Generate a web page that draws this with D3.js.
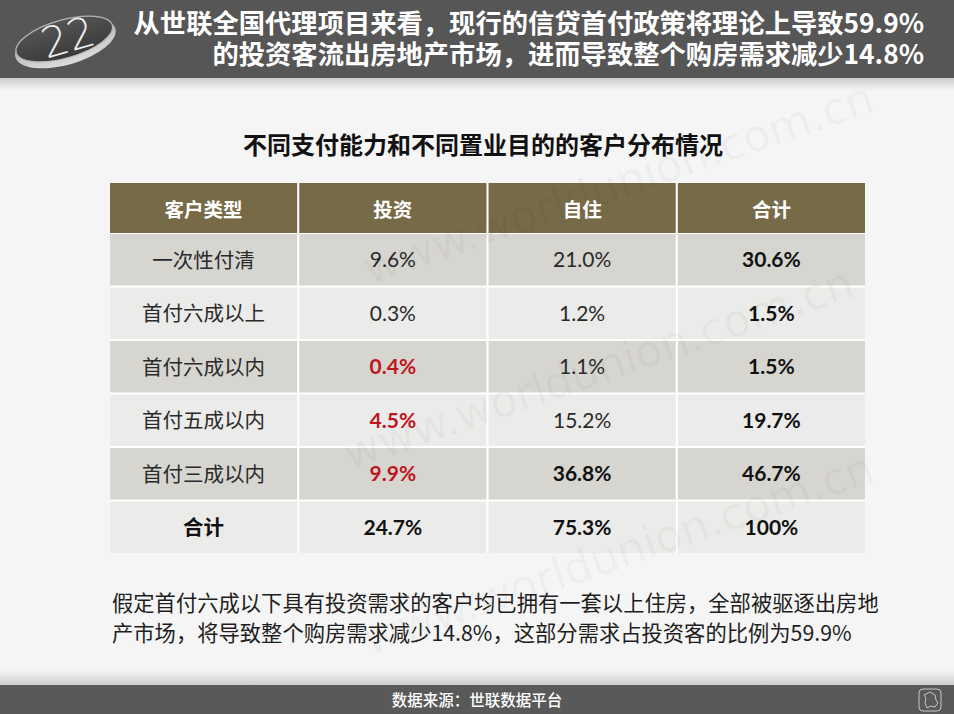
<!DOCTYPE html>
<html><head><meta charset="utf-8">
<script src="https://cdn.jsdelivr.net/npm/d3@7"></script>
<style>
html,body{margin:0;padding:0;background:#f4f4f4;}
svg{display:block;}
</style></head>
<body>
<script>
// ---- data ----
const titleLines = ["从世联全国代理项目来看，现行的信贷首付政策将理论上导致59.9%", "的投资客流出房地产市场，进而导致整个购房需求减少14.8%"];
const tableTitle = "不同支付能力和不同置业目的的客户分布情况";
const columns = ["客户类型", "投资", "自住", "合计"];
const categories = ["一次性付清", "首付六成以上", "首付六成以内", "首付五成以内", "首付三成以内", "合计"];
const investValues = [9.6, 0.3, 0.4, 4.5, 9.9, 24.7];
const selfValues = [21.0, 1.2, 1.1, 15.2, 36.8, 75.3];
const totalValues = [30.6, 1.5, 1.5, 19.7, 46.7, 100];
const noteLines = ["假定首付六成以下具有投资需求的客户均已拥有一套以上住房，全部被驱逐出房地", "产市场，将导致整个购房需求减少14.8%，这部分需求占投资客的比例为59.9%"];
const sourceText = "数据来源：世联数据平台";
const badgeText = "22";
const watermark = "www.worldunion.com.cn";

// ---- drawing ----
const W = 954, H = 714;
const CJK = "'Noto Sans CJK SC','Noto Sans',sans-serif";
const NUM = "Lato,'Noto Sans CJK SC',sans-serif";
const svg = d3.select("body").append("svg").attr("width", W).attr("height", H);
const defs = svg.append("defs");

svg.append("rect").attr("width",W).attr("height",H).attr("fill","#f5f5f5");

// header shadow + bar
const sh = defs.append("linearGradient").attr("id","shTop").attr("x1",0).attr("y1",0).attr("x2",0).attr("y2",1);
sh.append("stop").attr("offset","0").attr("stop-color","#000").attr("stop-opacity",0.18);
sh.append("stop").attr("offset","1").attr("stop-color","#000").attr("stop-opacity",0);
svg.append("rect").attr("x",0).attr("y",77).attr("width",W).attr("height",14).attr("fill","url(#shTop)");
svg.append("rect").attr("x",0).attr("y",0).attr("width",W).attr("height",78).attr("fill","#565656");

// badge
const rimG = defs.append("linearGradient").attr("id","rim").attr("x1",0).attr("y1",0).attr("x2",0).attr("y2",1);
rimG.append("stop").attr("offset","0").attr("stop-color","#8a8a8a");
rimG.append("stop").attr("offset","0.55").attr("stop-color","#c4c4c4");
rimG.append("stop").attr("offset","1").attr("stop-color","#dcdcdc");
const innG = defs.append("linearGradient").attr("id","inn").attr("x1",0).attr("y1",0).attr("x2",0).attr("y2",1);
innG.append("stop").attr("offset","0").attr("stop-color","#555");
innG.append("stop").attr("offset","1").attr("stop-color","#3a3a3a");
const badge = svg.append("g").attr("transform","translate(64,38) rotate(-16)");
badge.append("ellipse").attr("rx",52).attr("ry",22).attr("cy",5).attr("fill","url(#rim)");
badge.append("ellipse").attr("rx",50).attr("ry",19).attr("cy",1).attr("fill","url(#inn)");
badge.append("ellipse").attr("rx",50).attr("ry",19).attr("cy",1).attr("fill","none").attr("stroke","#b5b5b5").attr("stroke-width",1.2);
badge.append("text").attr("text-anchor","middle").attr("x",4).attr("y",15).attr("fill","#eeeeee")
  .attr("font-family","'DejaVu Sans',sans-serif").attr("font-size",42).attr("font-weight",200).text(badgeText);

// title
svg.append("g").selectAll("text").data(titleLines).join("text")
  .attr("x",924).attr("y",(d,i)=>33+i*31).attr("text-anchor","end")
  .attr("fill","#ffffff").attr("font-family",CJK).attr("font-weight",700).attr("font-size",26.3)
  .text(d=>d);

// table title
svg.append("text").attr("x",483).attr("y",154).attr("text-anchor","middle")
  .attr("font-family",CJK).attr("font-weight",700).attr("font-size",24).attr("fill","#111")
  .text(tableTitle);

// table
const x = d3.scaleBand().domain(columns).range([110,865]).paddingInner(0.011);
const y = d3.scaleBand().domain(categories).range([234,553]).paddingInner(0.038);
const headerTop = 183, headerH = 50;
const rowsData = categories.map((c,i)=>[c, investValues[i], selfValues[i], totalValues[i]]);
const fmt = v => v===100 ? "100%" : v.toFixed(1)+"%";

const tbl = svg.append("g");
tbl.append("rect").attr("x",110).attr("y",headerTop).attr("width",755).attr("height",553-headerTop).attr("fill","#ffffff");
tbl.selectAll("rect.h").data(columns).join("rect").attr("class","h")
  .attr("x",d=>x(d)).attr("y",headerTop).attr("width",x.bandwidth()).attr("height",headerH).attr("fill","#766a47");
tbl.selectAll("text.h").data(columns).join("text").attr("class","h")
  .attr("x",d=>x(d)+x.bandwidth()/2).attr("y",headerTop+headerH/2+9).attr("text-anchor","middle")
  .attr("fill","#fff").attr("font-family",CJK).attr("font-weight",700).attr("font-size",19.5).text(d=>d);

const rowG = tbl.selectAll("g.r").data(rowsData).join("g").attr("class","r");
rowG.each(function(row, ri){
  const g = d3.select(this);
  const fill = ri%2===0 ? "#d6d5d0" : "#ebebe9";
  columns.forEach((col, ci)=>{
    g.append("rect").attr("x",x(col)).attr("y",y(row[0])).attr("width",x.bandwidth()).attr("height",y.bandwidth()).attr("fill",fill);
    const isTotalRow = ri===categories.length-1;
    const isLabel = ci===0;
    const bold = isTotalRow || ci===3 || (ci===2 && ri===4) || (ci===1 && ri>=2);
    const red = ci===1 && ri>=2 && ri<=4;
    g.append("text")
      .attr("x",x(col)+x.bandwidth()/2).attr("y",y(row[0])+y.bandwidth()/2+ (isLabel?8:7.5))
      .attr("text-anchor","middle")
      .attr("font-family", isLabel ? CJK : NUM)
      .attr("font-size", isLabel ? 20.5 : 21)
      .attr("font-weight", bold ? 700 : 400)
      .attr("fill", red ? "#c0141c" : (bold ? "#111" : "#2a2a2a"))
      .text(isLabel ? row[0] : fmt(row[ci]));
  });
});

// note
svg.append("g").selectAll("text").data(noteLines).join("text")
  .attr("x",112).attr("y",(d,i)=>611+i*30).attr("fill","#1e1e1e")
  .attr("font-family",CJK).attr("font-size",21.3).text(d=>d);

// watermark (faint, over content)
const wm = svg.append("g").attr("fill","#000").attr("fill-opacity",0.04)
  .attr("font-family","'DejaVu Sans',sans-serif").attr("font-size",44);
[[370,285],[350,470],[370,655]].forEach(p=>{
  wm.append("text").attr("transform",`translate(${p[0]},${p[1]}) rotate(-19)`).text(watermark);
});

// bottom bar
const shB = defs.append("linearGradient").attr("id","shBot").attr("x1",0).attr("y1",1).attr("x2",0).attr("y2",0);
shB.append("stop").attr("offset","0").attr("stop-color","#000").attr("stop-opacity",0.16);
shB.append("stop").attr("offset","1").attr("stop-color","#000").attr("stop-opacity",0);
svg.append("rect").attr("x",0).attr("y",670).attr("width",W).attr("height",15).attr("fill","url(#shBot)");
svg.append("rect").attr("x",0).attr("y",685).attr("width",W).attr("height",29).attr("fill","#595959");
svg.append("text").attr("x",477).attr("y",706).attr("text-anchor","middle").attr("fill","#fff")
  .attr("font-family",CJK).attr("font-size",15.5).attr("font-weight",500).text(sourceText);
const ic = svg.append("g").attr("transform","translate(919,689)").attr("fill","none").attr("stroke","#c8c8c8").attr("stroke-width",1);
ic.append("rect").attr("width",22).attr("height",22).attr("rx",4);
ic.append("path").attr("d","M11,3 L16,6 L17,11 L19,14 L16,18 L12,17 L8,19 L6,14 L7,9 L5,6 Z");
</script>
</body></html>
